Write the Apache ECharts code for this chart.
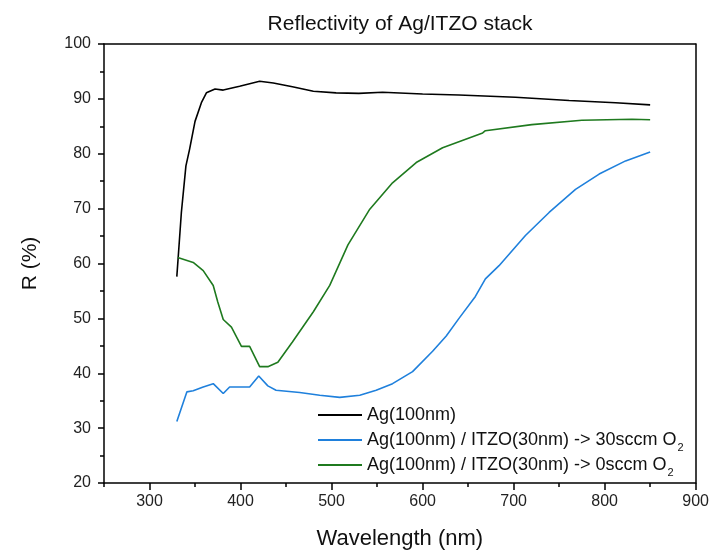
<!DOCTYPE html>
<html><head><meta charset="utf-8">
<script src="https://cdn.jsdelivr.net/npm/echarts@6/dist/echarts.min.js"></script>
<style>html,body{margin:0;padding:0;background:#fff}#c{width:712px;height:555px}</style>
</head><body><div id="c"></div>
<script>
var titleText = 'Reflectivity of Ag/ITZO stack';
var xName = 'Wavelength (nm)';
var yName = 'R (%)';
var seriesNames = ['Ag(100nm)', 'Ag(100nm) / ITZO(30nm) -> 30sccm O2', 'Ag(100nm) / ITZO(30nm) -> 0sccm O2'];
var xMajorTicks = [300, 400, 500, 600, 700, 800, 900];
var xMinorTicks = [250, 350, 450, 550, 650, 750, 850];

var wBlack = [330, 331.5, 335, 340, 344, 350, 357, 362.5, 372, 381, 399, 421, 436, 457, 480, 505, 530, 556, 600, 640, 702, 761, 812, 850];
var rBlack = [57.6, 61.1, 69.3, 77.8, 80.8, 85.9, 89.3, 91.1, 91.8, 91.6, 92.3, 93.2, 92.9, 92.2, 91.4, 91.1, 91.0, 91.2, 90.9, 90.7, 90.3, 89.7, 89.3, 88.9];

var wBlue = [330, 341, 348, 359, 370, 381, 388, 399, 410, 420, 430, 439, 465, 487, 509, 531, 549, 567, 589, 611, 626, 640, 658, 669, 684, 713, 739, 768, 794, 823, 850];
var rBlue = [31.2, 36.6, 36.8, 37.5, 38.1, 36.3, 37.5, 37.5, 37.5, 39.5, 37.7, 36.9, 36.5, 36.0, 35.6, 36.0, 36.9, 38.1, 40.3, 44.0, 46.8, 50.0, 54.0, 57.2, 59.6, 65.1, 69.3, 73.5, 76.3, 78.7, 80.3];

var wGreen = [331, 348, 359, 370, 375, 381, 390, 401, 410, 421, 430, 441, 457, 480, 498, 518, 542, 567, 593, 622, 666, 669, 720, 775, 830, 850];
var rGreen = [61.1, 60.2, 58.7, 56.0, 53.0, 49.8, 48.4, 44.9, 44.9, 41.2, 41.2, 42.0, 45.7, 51.2, 56.0, 63.4, 69.9, 74.7, 78.4, 81.1, 83.8, 84.2, 85.3, 86.1, 86.3, 86.2];

function pairs(xs, ys){ return xs.map(function(x,i){ return [x, ys[i]]; }); }

var FONT = '"Liberation Sans", Arial, sans-serif';
var chart = echarts.init(document.getElementById('c'), null, {renderer:'canvas'});
var lineStyleAxis = {color:'#000', width:1.5};
chart.setOption({
  animation:false,
  backgroundColor:'#fff',
  title:{text:titleText, left:395, top:9, textAlign:'center',
    textStyle:{fontFamily:FONT, fontSize:21, fontWeight:'normal', color:'#111'}},
  grid:{left:104, right:15, top:44, bottom:70, show:false},
  legend:{
    orient:'vertical', left:313, top:401, itemWidth:44, itemHeight:2, itemGap:3,
    icon:'rect',
    data:seriesNames,
    formatter:function(n){
      if (n.slice(-2) === 'O2') return '{a|' + n.slice(0,-1) + '}{s|2}';
      return '{a|' + n + '}{s| }';
    },
    textStyle:{fontFamily:FONT, fontSize:18, color:'#111',
      rich:{a:{fontFamily:FONT, fontSize:18, color:'#111', verticalAlign:'bottom', lineHeight:18},
            s:{fontFamily:FONT, fontSize:11, color:'#111', verticalAlign:'bottom', lineHeight:11, padding:[0,0,-4,1]}}}
  },
  xAxis:[{
    type:'value', min:250, max:900, interval:50,
    name:xName, nameLocation:'middle', nameGap:45,
    nameTextStyle:{fontFamily:FONT, fontSize:22, color:'#111'},
    axisLine:{show:true, onZero:false, lineStyle:lineStyleAxis},
    axisTick:{show:true, inside:false, length:7, customValues:xMajorTicks, lineStyle:{color:'#000', width:1.5}},
    axisLabel:{fontFamily:FONT, fontSize:16, color:'#222', margin:11, customValues:xMajorTicks},
    splitLine:{show:false}
  },{
    type:'value', position:'bottom', min:250, max:900, interval:50,
    axisLine:{show:false, onZero:false},
    axisTick:{show:true, inside:false, length:4, customValues:xMinorTicks, lineStyle:{color:'#000', width:1.5}},
    axisLabel:{show:false}, splitLine:{show:false}
  },{
    type:'value', position:'top', min:250, max:900,
    axisLine:{show:true, onZero:false, lineStyle:lineStyleAxis},
    axisTick:{show:false}, axisLabel:{show:false}, splitLine:{show:false}
  }],
  yAxis:[{
    type:'value', min:20, max:100, interval:10,
    name:yName, nameLocation:'middle', nameGap:63, nameRotate:90,
    nameTextStyle:{fontFamily:FONT, fontSize:21, color:'#111'},
    axisLine:{show:true, onZero:false, lineStyle:lineStyleAxis},
    axisTick:{show:true, inside:false, length:6, lineStyle:{color:'#000', width:1.5}},
    minorTick:{show:true, splitNumber:2, length:4, lineStyle:{color:'#000', width:1.5}},
    axisLabel:{fontFamily:FONT, fontSize:16, color:'#222', margin:13},
    splitLine:{show:false}
  },{
    type:'value', position:'right', min:20, max:100,
    axisLine:{show:true, onZero:false, lineStyle:lineStyleAxis},
    axisTick:{show:false}, axisLabel:{show:false}, splitLine:{show:false}
  }],
  series:[
    {name:seriesNames[0], type:'line', data:pairs(wBlack, rBlack), showSymbol:false, symbol:'none',
      lineStyle:{color:'#000', width:1.6}, itemStyle:{color:'#000'}},
    {name:seriesNames[1], type:'line', data:pairs(wBlue, rBlue), showSymbol:false, symbol:'none',
      lineStyle:{color:'#1f80dc', width:1.6}, itemStyle:{color:'#1f80dc'}},
    {name:seriesNames[2], type:'line', data:pairs(wGreen, rGreen), showSymbol:false, symbol:'none',
      lineStyle:{color:'#1f7a1f', width:1.6}, itemStyle:{color:'#1f7a1f'}}
  ]
});
</script></body></html>
